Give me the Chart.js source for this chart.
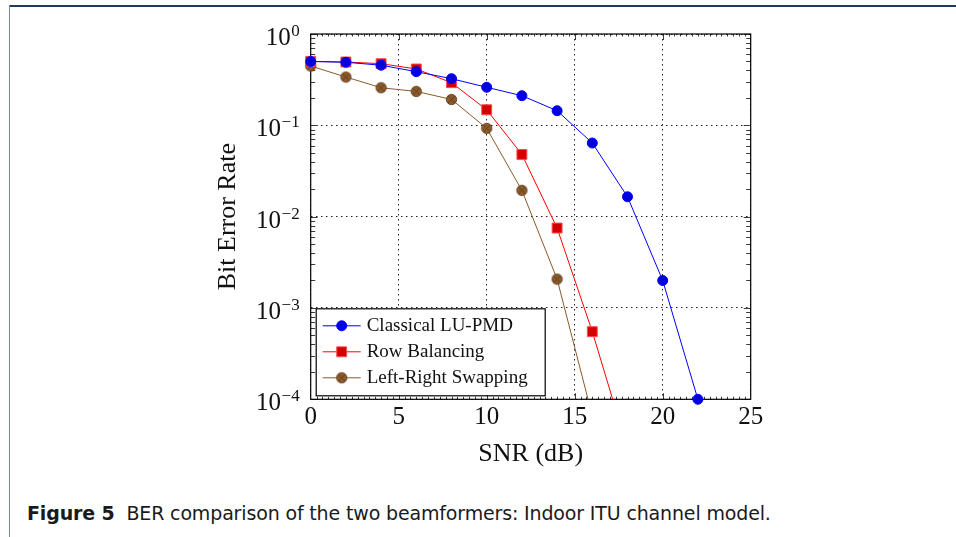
<!DOCTYPE html>
<html>
<head>
<meta charset="utf-8">
<title>BER comparison</title>
<script src="https://cdn.jsdelivr.net/npm/chart.js@4.4.1/dist/chart.umd.min.js"></script>
<style>
  html, body {
    margin: 0;
    padding: 0;
    background: #ffffff;
  }
  body {
    width: 956px;
    height: 537px;
    position: relative;
    overflow: hidden;
  }
  .frame-top {
    position: absolute;
    left: 9px;
    top: 5px;
    width: 947px;
    height: 2px;
    background: #1f3a5c;
  }
  .frame-left {
    position: absolute;
    left: 9px;
    top: 5px;
    width: 1px;
    height: 532px;
    background: #6f86aa;
  }
  .chart-shell {
    position: absolute;
    left: 0;
    top: 0;
    width: 956px;
    height: 480px;
  }
  .caption {
    position: absolute;
    left: 27px;
    top: 502px;
    font-family: "DejaVu Sans", sans-serif;
    font-size: 19px;
    letter-spacing: -0.15px;
    color: #1a1a1a;
    white-space: nowrap;
  }
  .caption b {
    margin-right: 6px;
  }
</style>
</head>
<body>
<div class="frame-top"></div>
<div class="frame-left"></div>
<div class="chart-shell"><canvas id="ber-chart"></canvas></div>
<div class="caption"><b>Figure 5</b> BER comparison of the two beamformers: Indoor ITU channel model.</div>

<script>
// SNR sweep in dB and the measured bit error rates for each beamformer
const snrDb = [0, 2, 4, 6, 8, 10, 12, 14, 16, 18, 20, 22];
const berClassical = [0.5, 0.49, 0.455, 0.387, 0.324, 0.261, 0.211, 0.1445, 0.064, 0.0165, 0.002, 0.0001];
const berRowBalancing = [0.502, 0.494, 0.473, 0.414, 0.293, 0.148, 0.048, 0.0075, 0.00055, 0.000029];
const berLeftRight = [0.446, 0.338, 0.258, 0.235, 0.192, 0.0927, 0.0194, 0.00207, 0.000066];

const seriesLabels = ["Classical LU-PMD", "Row Balancing", "Left-Right Swapping"];
const yDecades = [1e-4, 1e-3, 1e-2, 1e-1, 1];
const xTickValues = [0, 5, 10, 15, 20, 25];

const SERIF = "'Liberation Serif', 'Times New Roman', serif";
const BROWN = "#8b5a2b";

function toPoints(values) {
  return values.map((y, i) => ({ x: snrDb[i], y }));
}

// brown circle with a cross through it, used as the third series marker
function crossedCircle() {
  const size = 13;
  const c = document.createElement("canvas");
  c.width = size;
  c.height = size;
  const g = c.getContext("2d");
  const m = size / 2;
  g.beginPath();
  g.arc(m, m, 5.2, 0, Math.PI * 2);
  g.fillStyle = BROWN;
  g.fill();
  g.lineWidth = 0.8;
  g.strokeStyle = "#5e3b19";
  g.stroke();
  g.beginPath();
  g.moveTo(m - 3.6, m - 3.6);
  g.lineTo(m + 3.6, m + 3.6);
  g.moveTo(m + 3.6, m - 3.6);
  g.lineTo(m - 3.6, m + 3.6);
  g.stroke();
  return c;
}

const brownMarker = crossedCircle();

function minorDecadeValues() {
  const out = [];
  for (let d = 0; d < yDecades.length - 1; d++) {
    for (let k = 2; k <= 9; k++) out.push(yDecades[d] * k);
  }
  return out;
}

// box, inner ticks on all four sides
const axisFrame = {
  id: "axisFrame",
  beforeDatasetsDraw(chart) {
    const { ctx, chartArea: a, scales } = chart;
    const xs = scales.x;
    const ys = scales.y;
    ctx.save();
    ctx.strokeStyle = "#3a3a3a";
    ctx.lineWidth = 1;
    ctx.beginPath();

    minorDecadeValues().forEach((v) => {
      const py = Math.round(ys.getPixelForValue(v)) + 0.5;
      ctx.moveTo(a.left, py); ctx.lineTo(a.left + 4.5, py);
      ctx.moveTo(a.right, py); ctx.lineTo(a.right - 4.5, py);
    });
    yDecades.forEach((v) => {
      const py = Math.round(ys.getPixelForValue(v)) + 0.5;
      ctx.moveTo(a.left, py); ctx.lineTo(a.left + 7, py);
      ctx.moveTo(a.right, py); ctx.lineTo(a.right - 7, py);
    });
    for (let k = 1; k < 75; k++) {
      const px = Math.round(xs.getPixelForValue(k / 3)) + 0.5;
      const len = k % 15 === 0 ? 6 : 2.5;
      ctx.moveTo(px, a.top); ctx.lineTo(px, a.top + len);
      ctx.moveTo(px, a.bottom); ctx.lineTo(px, a.bottom - len);
    }
    ctx.stroke();

    ctx.strokeStyle = "#000";
    ctx.lineWidth = 1.2;
    ctx.strokeRect(a.left, a.top, a.right - a.left, a.bottom - a.top);
    ctx.restore();
  },
  afterDraw(chart) {
    // 10^k labels on the log axis
    const { ctx, chartArea: a, scales } = chart;
    const ys = scales.y;
    ctx.save();
    ctx.fillStyle = "#111";
    ctx.textAlign = "right";
    ctx.textBaseline = "alphabetic";
    yDecades.forEach((v) => {
      const py = ys.getPixelForValue(v);
      const exp = Math.round(Math.log10(v));
      const expText = exp === 0 ? "0" : "\u2212" + Math.abs(exp);
      const right = a.left - 11;
      ctx.font = "17px " + SERIF;
      const ew = ctx.measureText(expText).width;
      ctx.fillText(expText, right, py + 2);
      ctx.font = "25px " + SERIF;
      ctx.fillText("10", right - ew - 0.5, py + 11);
    });
    ctx.restore();
  },
};

// legend box in the lower-left corner of the plot area
const cornerLegend = {
  id: "cornerLegend",
  afterDatasetsDraw(chart) {
    const { ctx, chartArea: a } = chart;
    const boxW = 229;
    const boxH = 87;
    const left = a.left + 5;
    const top = a.bottom - 4 - boxH;
    ctx.save();
    ctx.fillStyle = "#fff";
    ctx.fillRect(left, top, boxW, boxH);
    ctx.strokeStyle = "#000";
    ctx.lineWidth = 1.2;
    ctx.strokeRect(left + 0.5, top + 0.5, boxW, boxH);

    chart.data.datasets.forEach((ds, i) => {
      const cy = top + 17 + i * 26;
      ctx.strokeStyle = ds.borderColor;
      ctx.lineWidth = 1;
      ctx.beginPath();
      ctx.moveTo(left + 7, cy + 0.5);
      ctx.lineTo(left + 45, cy + 0.5);
      ctx.stroke();
      ctx.fillStyle = ds.pointBackgroundColor;
      ctx.strokeStyle = ds.pointBorderColor;
      ctx.lineWidth = ds.pointBorderWidth;
      Chart.helpers.drawPoint(ctx, {
        pointStyle: ds.pointStyle,
        radius: ds.pointRadius,
        borderWidth: ds.pointBorderWidth,
        rotation: 0,
      }, left + 26, cy + 0.5);
      ctx.fillStyle = "#111";
      ctx.font = "19px " + SERIF;
      ctx.textAlign = "left";
      ctx.textBaseline = "middle";
      ctx.fillText(ds.label, left + 51, cy + 1);
    });
    ctx.restore();
  },
};

Chart.defaults.font.family = SERIF;
Chart.defaults.color = "#111";

new Chart(document.getElementById("ber-chart"), {
  type: "line",
  data: {
    datasets: [
      {
        label: seriesLabels[0],
        data: toPoints(berClassical),
        borderColor: "#0000ff",
        borderWidth: 1,
        pointStyle: "circle",
        pointRadius: 5,
        pointBackgroundColor: "#0000e0",
        pointBorderColor: "#0000ff",
        pointBorderWidth: 1,
        clip: false,
      },
      {
        label: seriesLabels[1],
        data: toPoints(berRowBalancing),
        borderColor: "#ff0000",
        borderWidth: 1,
        pointStyle: "rect",
        pointRadius: 7,
        pointBackgroundColor: "#d40000",
        pointBorderColor: "#ff4a4a",
        pointBorderWidth: 1,
        clip: { left: 10, top: 10, right: 10, bottom: 0 },
      },
      {
        label: seriesLabels[2],
        data: toPoints(berLeftRight),
        borderColor: BROWN,
        borderWidth: 1,
        pointStyle: brownMarker,
        pointRadius: 5,
        pointBackgroundColor: BROWN,
        pointBorderColor: "#5e3b19",
        pointBorderWidth: 1,
        clip: { left: 10, top: 10, right: 10, bottom: 0 },
      },
    ],
  },
  options: {
    responsive: true,
    maintainAspectRatio: false,
    animation: false,
    devicePixelRatio: 1,
    layout: {
      padding: { left: 0, top: 34, right: 205.3, bottom: 10.7 },
    },
    elements: {
      line: { tension: 0 },
    },
    plugins: {
      legend: { display: false },
      tooltip: { enabled: false },
    },
    scales: {
      x: {
        type: "linear",
        min: 0,
        max: 25,
        afterBuildTicks(scale) {
          scale.ticks = xTickValues.map((value) => ({ value }));
        },
        afterFit(scale) {
          scale.height = 70;
        },
        ticks: {
          font: { size: 25 },
          color: "#111",
          padding: 3,
          maxRotation: 0,
        },
        grid: {
          color: "#222",
          lineWidth: 1,
          drawTicks: false,
        },
        border: { display: false, dash: [1.5, 3.5] },
        title: {
          display: true,
          text: "SNR (dB)",
          font: { size: 26 },
          color: "#111",
          padding: { top: 2, bottom: 0 },
        },
      },
      y: {
        type: "logarithmic",
        min: 1e-4,
        max: 1,
        afterBuildTicks(scale) {
          scale.ticks = yDecades.map((value) => ({ value, major: true }));
        },
        afterFit(scale) {
          scale.width = 310.7;
        },
        ticks: { display: false },
        grid: {
          color: "#222",
          lineWidth: 1,
          drawTicks: false,
        },
        border: { display: false, dash: [1.5, 3.5] },
        title: {
          display: true,
          text: "Bit Error Rate",
          font: { size: 26 },
          color: "#111",
          padding: { top: 212.4, bottom: 0 },
        },
      },
    },
  },
  plugins: [axisFrame, cornerLegend],
});
</script>
</body>
</html>
